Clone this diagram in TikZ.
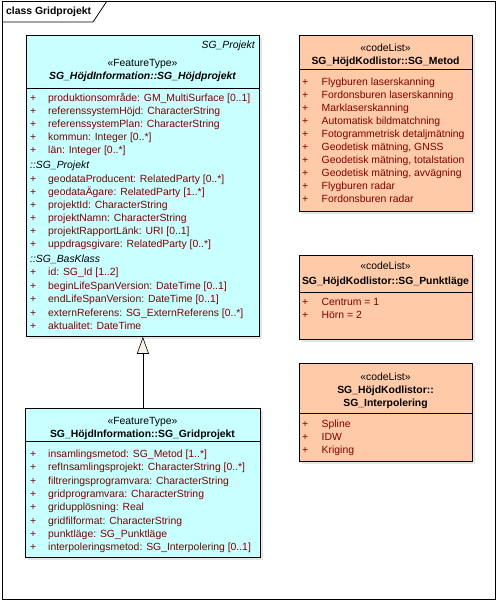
\documentclass[tikz,border=0pt]{standalone}
\usepackage{fontspec}
\setmainfont{Liberation Sans}
\usetikzlibrary{arrows.meta,shadows,positioning}

\definecolor{featcyan}{RGB}{200,255,255}
\definecolor{codeorange}{RGB}{255,202,168}
\definecolor{attrred}{RGB}{128,0,0}
\definecolor{trifill}{RGB}{246,241,231}
\newcommand{\umlfont}{\fontsize{10.4}{13}\selectfont}
\newcommand{\featplus}{\makebox[18pt][l]{+}}
\newcommand{\codeplus}{\makebox[19.5pt][l]{+}}

\begin{document}
\begin{tikzpicture}[x=1pt,y=-1pt]
\tikzstyle{frame}=[draw=black, line width=0.8pt]
\tikzstyle{feature}=[rectangle, draw=black, line width=0.8pt, fill=featcyan, anchor=north west, inner sep=0pt, drop shadow={shadow xshift=2.5pt, shadow yshift=-2.5pt, opacity=0.2}]
\tikzstyle{codelist}=[feature, fill=codeorange]
\tikzstyle{attr}=[anchor=base west, inner sep=0pt, text=attrred, font=\umlfont]
\tikzstyle{section}=[anchor=base west, inner sep=0pt, font=\umlfont\itshape]
\tikzstyle{head}=[anchor=base, inner sep=0pt, font=\umlfont]
\tikzstyle{separator}=[draw=black, line width=0.8pt]
\tikzstyle{generalize}=[draw, line width=0.6pt, -{Triangle[open, fill=trifill, length=17pt, width=12pt]}]

\useasboundingbox (0,0) rectangle (497,602);
% diagram frame with tab
\draw[frame] (2,1) rectangle (495,599);
\draw[frame] (2,22) -- (93,22) -- (107,1);
\node[anchor=base west, inner sep=0pt, font=\umlfont\bfseries] (title) at (6,15) {class Gridprojekt};

% feature types
\node[feature, minimum width=233pt, minimum height=301pt] (hojdprojekt) at (26,35) {};
\node[feature, minimum width=235pt, minimum height=149pt] (gridprojekt) at (25,408) {};

% code lists
\node[codelist, minimum width=173pt, minimum height=176pt] (metod) at (299,35) {};
\node[codelist, minimum width=173pt, minimum height=84pt] (punktlage) at (299,255) {};
\node[codelist, minimum width=173pt, minimum height=98pt] (interpolering) at (299,363) {};

\draw[separator] (26,88) -- (259,88);
\draw[separator] (25,441) -- (260,441);
\draw[separator] (299,69) -- (472,69);
\draw[separator] (299,292) -- (472,292);
\draw[separator] (299,413) -- (472,413);

% headers
\node[anchor=base east, inner sep=0pt, font=\umlfont\itshape] (hp_pkg) at (255,48.5) {SG\_Projekt};
\node[head] (hp_st) at (142.5,66.5) {«FeatureType»};
\node[head, font=\umlfont\bfseries\itshape] (hp_name) at (142.5,79.5) {SG\_HöjdInformation::SG\_Höjdprojekt};
\node[head] (gp_st) at (142.5,424.5) {«FeatureType»};
\node[head, font=\umlfont\bfseries] (gp_name) at (142.5,437.5) {SG\_HöjdInformation::SG\_Gridprojekt};
\node[head] (me_st) at (385.5,51.5) {«codeList»};
\node[head, font=\umlfont\bfseries] (me_name) at (385.5,64.5) {SG\_HöjdKodlistor::SG\_Metod};
\node[head] (pl_st) at (385.5,269.5) {«codeList»};
\node[head, font=\umlfont\bfseries] (pl_name) at (385.5,284.5) {SG\_HöjdKodlistor::SG\_Punktläge};
\node[head] (ip_st) at (385.5,380.5) {«codeList»};
\node[head, font=\umlfont\bfseries] (ip_name) at (385.5,393.5) {SG\_HöjdKodlistor::};
\node[head, font=\umlfont\bfseries] (ip_name2) at (385.5,406.5) {SG\_Interpolering};

% attributes of SG_Höjdprojekt
\foreach \txt [count=\i] in {produktionsområde: GM\_MultiSurface [0..1], referenssystemHöjd: CharacterString, referenssystemPlan: CharacterString, kommun: Integer [0..*], län: Integer [0..*]}
  \node[attr] (hpa\i) at (30,{88.5+13*\i}) {\featplus\txt};
\node[section] (hp_sec1) at (30,168.5) {::SG\_Projekt};
\foreach \txt [count=\i] in {geodataProducent: RelatedParty [0..*], geodataÄgare: RelatedParty [1..*], projektId: CharacterString, projektNamn: CharacterString, projektRapportLänk: URI [0..1], uppdragsgivare: RelatedParty [0..*]}
  \node[attr] (hpb\i) at (30,{169.5+13*\i}) {\featplus\txt};
\node[section] (hp_sec2) at (30,262) {::SG\_BasKlass};
\foreach \txt [count=\i] in {id: SG\_Id [1..2], beginLifeSpanVersion: DateTime [0..1], endLifeSpanVersion: DateTime [0..1], externReferens: SG\_ExternReferens [0..*], aktualitet: DateTime}
  \node[attr] (hpc\i) at (30,{262.5+13.4*\i}) {\featplus\txt};

% attributes of SG_Gridprojekt
\foreach \txt [count=\i] in {insamlingsmetod: SG\_Metod [1..*], refInsamlingsprojekt: CharacterString [0..*], filtreringsprogramvara: CharacterString, gridprogramvara: CharacterString, gridupplösning: Real, gridfilformat: CharacterString, punktläge: SG\_Punktläge, interpoleringsmetod: SG\_Interpolering [0..1]}
  \node[attr] (gpa\i) at (30,{444.2+13.3*\i}) {\featplus\txt};

% code list values
\foreach \txt [count=\i] in {Flygburen laserskanning, Fordonsburen laserskanning, Marklaserskanning, Automatisk bildmatchning, Fotogrammetrisk detaljmätning, {Geodetisk mätning, GNSS}, {Geodetisk mätning, totalstation}, {Geodetisk mätning, avvägning}, Flygburen radar, Fordonsburen radar}
  \node[attr] (mev\i) at (302,{72.5+13*\i}) {\codeplus\txt};
\foreach \txt [count=\i] in {Centrum = 1, Hörn = 2}
  \node[attr] (plv\i) at (302,{292.5+13*\i}) {\codeplus\txt};
\foreach \txt [count=\i] in {Spline, IDW, Kriging}
  \node[attr] (ipv\i) at (302,{414.5+13*\i}) {\codeplus\txt};

% generalization
\path[generalize] (gridprojekt.north) -- (hojdprojekt.south);
\end{tikzpicture}
\end{document}
